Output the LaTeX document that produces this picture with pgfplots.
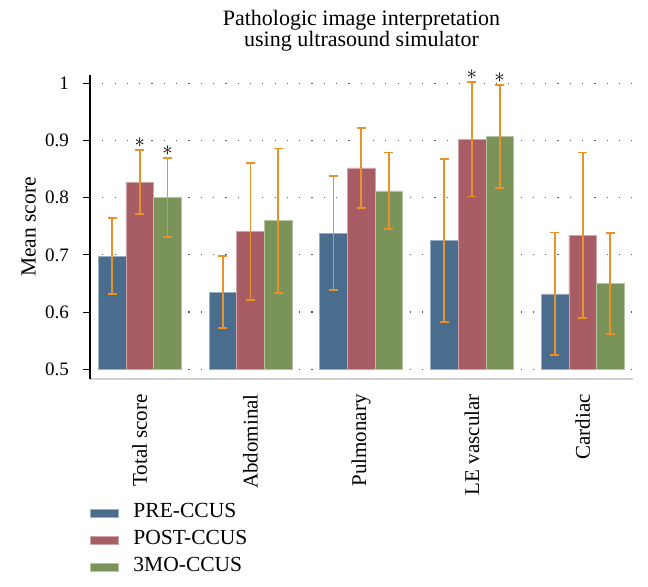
\documentclass[border=0pt]{standalone}
\usepackage{fontspec}
\setmainfont{Liberation Serif}
\usepackage{pgfplots}
\pgfplotsset{compat=1.18}
\definecolor{cpre}{RGB}{74,108,141}
\definecolor{cpost}{RGB}{168,92,99}
\definecolor{cmo}{RGB}{122,147,89}
\definecolor{cerr}{RGB}{232,146,44}
\begin{document}
\begin{tikzpicture}
\begin{axis}[
  scale only axis, width=543pt, height=304pt,
  clip=false,
  ybar=0pt, bar width=0.25,
  xmin=-0.45, xmax=4.455,
  ymin=-0.017, ymax=0.5145,
  y filter/.expression={y-0.5},
  ytick={0,0.1,0.2,0.3,0.4,0.5},
  yticklabels={0.5,0.6,0.7,0.8,0.9,1},
  xtick={0,1,2,3,4},
  xticklabels={Total score,Abdominal,Pulmonary,LE vascular,Cardiac},
  axis lines*=left,
  x axis line style={draw=black!18, line width=1.2pt},
  y axis line style={draw=black, line width=1.1pt},
  xtick style={draw=none},
  ytick style={draw=black, line width=1pt},
  tick align=outside, major tick length=7pt,
  ymajorgrids,
  grid style={draw=black!65, line width=1.2pt, dash pattern=on 1.2pt off 11.1pt},
  yticklabel style={font=\fontsize{19}{22}\selectfont, anchor=east, inner sep=0pt, xshift=-14pt},
  xticklabel style={font=\fontsize{21}{24}\selectfont, rotate=90, anchor=east, inner sep=0pt},
  xticklabel shift=8pt,
  title={Pathologic image interpretation\\using ultrasound simulator},
  title style={align=center, font=\fontsize{22}{20.5}\selectfont, anchor=south, at={(0.5,1)}, yshift=18pt, inner sep=0pt},
  ylabel={Mean score},
  ylabel style={font=\fontsize{21.5}{24}\selectfont, at={(rel axis cs:-0.1,0.5)}, anchor=base, inner sep=0pt},
  legend style={at={(rel axis cs:0,0)}, anchor=north west, yshift=-125pt, draw=none, fill=none,
    inner sep=0pt, outer sep=0pt, font=\fontsize{21.5}{24}\selectfont, row sep=9pt,
    nodes={inner sep=0pt, text height=14pt, text depth=4pt, anchor=west},
    /tikz/every odd column/.append style={column sep=15pt}},
  legend cell align=left,
  legend image code/.code={\fill[#1] (0pt,-4pt) rectangle (28pt,4pt);},
  error bars/y dir=both, error bars/y explicit,
  error bars/error bar style={draw=cerr, line width=1.8pt},
  error bars/error mark options={rotate=90, mark size=4.5pt, line width=1.8pt, draw=cerr},
]
\addplot[fill=cpre, draw=cpre!55!white, line width=0.5pt, bar shift=-0.25] coordinates {
  (0,0.698) +- (0,0.066)
  (1,0.635) +- (0,0.063)
  (2,0.738) +- (0,0.100)
  (3,0.725) +- (0,0.143)
  (4,0.632) +- (0,0.107)
};
\addlegendentry{PRE-CCUS}
\addplot[fill=cpost, draw=cpost!55!white, line width=0.5pt, bar shift=0] coordinates {
  (0,0.827) +- (0,0.056)
  (1,0.741) +- (0,0.120)
  (2,0.852) +- (0,0.070)
  (3,0.902) +- (0,0.100)
  (4,0.734) +- (0,0.145)
};
\addlegendentry{POST-CCUS}
\addplot[fill=cmo, draw=cmo!55!white, line width=0.5pt, bar shift=0.25] coordinates {
  (0,0.800) +- (0,0.069)
  (1,0.760) +- (0,0.126)
  (2,0.812) +- (0,0.067)
  (3,0.907) +- (0,0.090)
  (4,0.650) +- (0,0.088)
};
\addlegendentry{3MO-CCUS}
\addplot[only marks, mark=none, forget plot, bar shift=0,
  nodes near coords={\fontsize{22}{22}\selectfont$\ast$},
  every node near coord/.style={anchor=center, yshift=8pt, inner sep=0pt}]
  coordinates {(0,0.882) (0.25,0.869) (3,1.001) (3.25,0.996)};
\end{axis}
\pgfresetboundingbox
\path ([xshift=-90pt,yshift=-208pt]current axis.south west) rectangle ([xshift=15pt,yshift=75pt]current axis.north east);
\end{tikzpicture}
\end{document}
